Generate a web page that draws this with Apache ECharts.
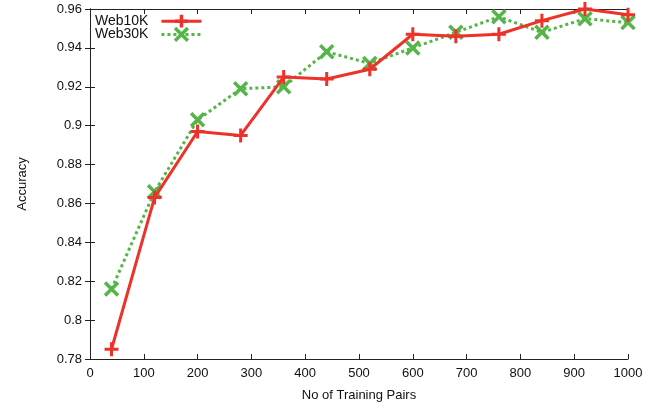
<!DOCTYPE html>
<html>
<head>
<meta charset="utf-8">
<script src="https://cdn.jsdelivr.net/npm/echarts@6/dist/echarts.min.js"></script>
<style>
  html, body { margin: 0; padding: 0; background: #fff; }
  #chart { width: 662px; height: 407px; }
</style>
</head>
<body>
<div id="chart"></div>
<script>
// Training-set size on the x axis
const trainingPairs = [40, 120, 200, 280, 360, 440, 520, 600, 680, 760, 840, 920, 1000];
// Accuracy for each dataset
const web10k = [0.785, 0.863, 0.897, 0.895, 0.925, 0.924, 0.929, 0.947, 0.946, 0.947, 0.954, 0.960, 0.957];
const web30k = [0.816, 0.866, 0.903, 0.919, 0.920, 0.938, 0.932, 0.940, 0.948, 0.956, 0.948, 0.955, 0.953];
const seriesNames = ['Web10K', 'Web30K'];

const RED = '#ee3229';
const GREEN = '#55b549';
const FONT = 'Liberation Sans';

// Stroked marker shapes (plus and cross)
const PLUS = 'path://M0,-1L0,1M-1,0L1,0';
const CROSS = 'path://M-1,-1L1,1M-1,1L1,-1';

const pairs = (xs, ys) => xs.map((x, i) => [x, ys[i]]);

const chart = echarts.init(document.getElementById('chart'), null, { renderer: 'canvas' });

const axisLine = { show: true, lineStyle: { color: '#222', width: 1 } };
const tick = { show: true, inside: true, length: 5, lineStyle: { color: '#222', width: 1 } };
const label = { color: '#111', fontFamily: FONT, fontSize: 13 };

chart.setOption({
  animation: false,
  backgroundColor: '#fff',
  grid: { left: 90, top: 9, width: 538, height: 350 },
  legend: {
    left: 95, top: 13, padding: 0,
    orient: 'vertical',
    align: 'right',
    itemWidth: 40, itemHeight: 16, itemGap: -3,
    lineStyle: { width: 3 },
    itemStyle: { borderWidth: 3.5 },
    textStyle: { color: '#111', fontFamily: FONT, fontSize: 14, lineHeight: 13, padding: [0, 8, 0, 0] },
    data: seriesNames
  },
  xAxis: [{
    type: 'value', min: 0, max: 1000, interval: 100,
    name: 'No of Training Pairs', nameLocation: 'middle', nameGap: 30,
    nameTextStyle: { color: '#111', fontFamily: FONT, fontSize: 13 },
    axisLine, axisTick: tick,
    axisLabel: Object.assign({ margin: 8, formatter: v => String(v) }, label),
    splitLine: { show: false }
  }, {
    type: 'value', min: 0, max: 1000, interval: 100, position: 'top',
    axisLine, axisTick: tick, axisLabel: { show: false }, splitLine: { show: false }
  }],
  yAxis: [{
    type: 'value', min: 0.78, max: 0.96, interval: 0.02,
    name: 'Accuracy', nameLocation: 'middle', nameGap: 61, nameRotate: 90,
    nameTextStyle: { color: '#111', fontFamily: FONT, fontSize: 13 },
    axisLine, axisTick: tick,
    axisLabel: Object.assign({ margin: 8, formatter: v => String(+v.toFixed(2)) }, label),
    splitLine: { show: false }
  }, {
    type: 'value', min: 0.78, max: 0.96, interval: 0.02, position: 'right',
    axisLine, axisTick: tick, axisLabel: { show: false }, splitLine: { show: false }
  }],
  series: [{
    name: seriesNames[0], type: 'line',
    data: pairs(trainingPairs, web10k),
    symbol: PLUS, symbolSize: 14, showAllSymbol: true,
    itemStyle: { color: RED, borderColor: RED, borderWidth: 3 },
    lineStyle: { color: RED, width: 3 },
    z: 3
  }, {
    name: seriesNames[1], type: 'line',
    data: pairs(trainingPairs, web30k),
    symbol: CROSS, symbolSize: 13, showAllSymbol: true,
    itemStyle: { color: GREEN, borderColor: GREEN, borderWidth: 3.5 },
    lineStyle: { color: GREEN, width: 3, type: [3, 3] },
    z: 2
  }]
});
</script>
</body>
</html>
